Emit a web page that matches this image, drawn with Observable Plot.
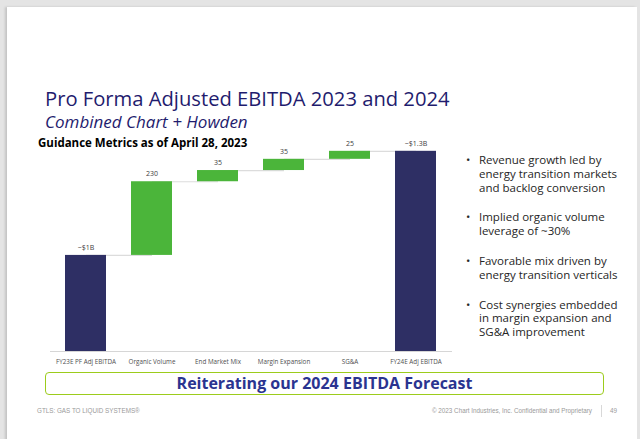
<!DOCTYPE html>
<html>
<head>
<meta charset="utf-8">
<script src="https://cdn.jsdelivr.net/npm/d3@7"></script>
<script src="https://cdn.jsdelivr.net/npm/@observablehq/plot@0.6"></script>
<style>
  html, body { margin: 0; padding: 0; }
  body { width: 640px; height: 439px; background: #e4e4e4; position: relative; overflow: hidden; font-family: "Open Sans", sans-serif; }
  #slide { position: absolute; left: 7px; top: 7px; width: 630px; height: 440px; background: #fff; box-shadow: -2px 0 2px #c4c4c4; }
  .abs { position: absolute; white-space: nowrap; }
  #title { left: 45px; top: 88px; font-size: 20.2px; color: #1f1c6e; line-height: 1; }
  #subtitle { left: 45px; top: 113px; font-size: 17px; font-style: italic; color: #1f1c6e; line-height: 1; }
  #guidance { left: 38px; top: 137px; font-size: 11.5px; font-weight: 700; color: #000; line-height: 1; }
  #chart { left: 0px; top: 130px; }
  #bullets { left: 466px; top: 153px; font-size: 11.5px; color: #262626; line-height: 13.8px; }
  #bullets p { margin: 0 0 16px 0; padding-left: 13px; position: relative; }
  #bullets p::before { content: "•"; position: absolute; left: 0; }
  #banner { left: 45px; top: 372px; width: 557px; height: 21px; border: 1.5px solid #9ccc1c; border-radius: 4px; text-align: center; font-size: 16px; font-weight: 700; color: #2a3490; line-height: 21px; }
  .foot { font-family: "Liberation Sans", Arial, sans-serif; font-size: 6.3px; color: #9a9a9a; top: 408px; line-height: 1; }
  #divider { left: 601px; top: 405px; width: 1px; height: 12px; background: #d8d8d8; }
</style>
</head>
<body>
<div id="slide"></div>
<div class="abs" id="title">Pro Forma Adjusted EBITDA 2023 and 2024</div>
<div class="abs" id="subtitle">Combined Chart + Howden</div>
<div id="chart" class="abs"></div>
<div class="abs" id="guidance">Guidance Metrics as of April 28, 2023</div>
<div class="abs" id="bullets"></div>
<div class="abs" id="banner">Reiterating our 2024 EBITDA Forecast</div>
<div class="abs foot" style="left:37px">GTLS: GAS TO LIQUID SYSTEMS®</div>
<div class="abs foot" style="right:48px">© 2023 Chart Industries, Inc. Confidential and Proprietary</div>
<div class="abs" id="divider"></div>
<div class="abs foot" style="left:610px">49</div>
<script>
// ---- data ----
const categories = ["FY23E PF Adj EBITDA", "Organic Volume", "End Market Mix", "Margin Expansion", "SG&A", "FY24E Adj EBITDA"];
const values = [1000, 230, 35, 35, 25, 1325];          // $M
const kinds = ["total", "delta", "delta", "delta", "delta", "total"];
const valueLabels = ["~$1B", "230", "35", "35", "25", "~$1.3B"];
const yDomain = [700, 1390];                          // truncated value axis
const bulletTexts = [
  "Revenue growth led by<br>energy transition markets<br>and backlog conversion",
  "Implied organic volume<br>leverage of ~30%",
  "Favorable mix driven by<br>energy transition verticals",
  "Cost synergies embedded<br>in margin expansion and<br>SG&amp;A improvement"
];

document.getElementById("bullets").innerHTML = bulletTexts.map(t => `<p>${t}</p>`).join("");

// ---- waterfall table ----
let running = 0;
const rows = categories.map((c, i) => {
  let y1, y2;
  if (kinds[i] === "total") { y1 = yDomain[0]; y2 = values[i]; running = values[i]; }
  else { y1 = running; y2 = running + values[i]; running = y2; }
  return { cat: c, y1, y2, kind: kinds[i], label: valueLabels[i] };
});
const links = rows.slice(0, -1).map((r, i) => ({ a: r.cat, b: rows[i + 1].cat, y: r.y2 }));

const chart = Plot.plot({
  width: 460,
  height: 240,
  marginLeft: 50,
  marginRight: 8,
  marginTop: 0,
  marginBottom: 19,
  style: { fontFamily: "Open Sans, sans-serif", background: "transparent", overflow: "visible" },
  x: { domain: categories, padding: 0.373, paddingOuter: 0.19, label: null },
  y: { domain: yDomain, axis: null },
  marks: [
    Plot.link(links, { x1: "a", x2: "b", y1: "y", y2: "y", stroke: "#dcdcdc", strokeWidth: 1.2 }),
    Plot.barY(rows, { x: "cat", y1: "y1", y2: "y2", fill: d => d.kind === "total" ? "#2e2f64" : "#4bb53a" }),
    Plot.ruleY([yDomain[0]], { stroke: "#d6d6d6", strokeWidth: 1.2 }),
    Plot.text(rows, { x: "cat", y: "y2", text: "label", dy: -8, fontSize: 7, fill: "#404040" }),
    Plot.axisX({ tickSize: 0, tickPadding: 8, fontSize: 6.3, color: "#505050" })
  ]
});
document.getElementById("chart").appendChild(chart);
</script>
</body>
</html>
